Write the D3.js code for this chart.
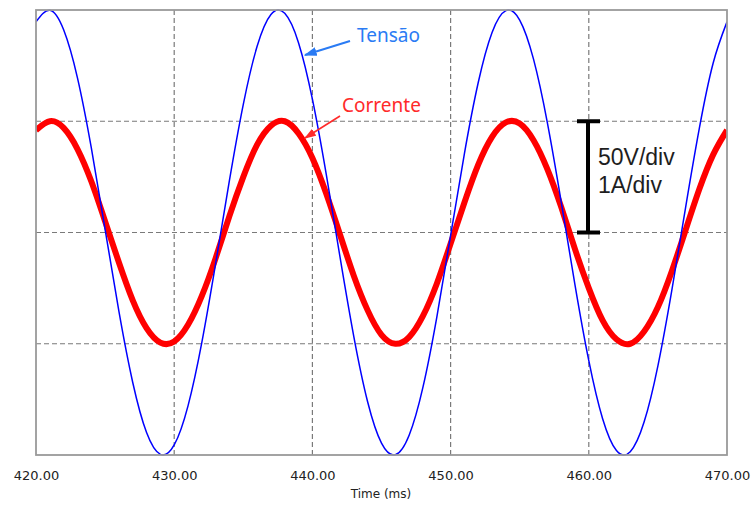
<!DOCTYPE html>
<html>
<head>
<meta charset="utf-8">
<script src="https://cdn.jsdelivr.net/npm/d3@7"></script>
<style>
  body { margin: 0; background: #fff; }
  svg { display: block; }
</style>
</head>
<body>
<svg id="chart"></svg>
<script>
// time samples (ms), one per millisecond
const time = d3.range(420, 471);

// voltage (V)
const tensao = [
  94.7, 99.9, 91.1, 69.5, 38.1, 1.4, -35.5, -67.4, -89.9, -99.7,
  -95.5, -77.9, -49.4, -13.9, 23.5, 57.6, 83.7, 98.0, 98.5, 85.2,
  59.9, 26.2, -11.1, -46.9, -76.2, -94.7, -99.9, -91.1, -69.5, -38.1,
  -1.4, 35.5, 67.4, 89.9, 99.7, 95.5, 77.9, 49.4, 13.9, -23.5,
  -57.6, -83.7, -98.0, -98.5, -85.2, -59.9, -26.2, 11.1, 46.9, 76.2,
  94.7
];

// current (A)
const corrente = [
  0.92, 1.00, 0.94, 0.75, 0.46, 0.10, -0.27, -0.61, -0.86, -0.99,
  -0.98, -0.83, -0.57, -0.23, 0.15, 0.50, 0.79, 0.96, 1.00, 0.89,
  0.67, 0.35, -0.02, -0.39, -0.70, -0.92, -1.00, -0.94, -0.75, -0.46,
  -0.10, 0.27, 0.61, 0.86, 0.99, 0.98, 0.83, 0.57, 0.23, -0.15,
  -0.50, -0.79, -0.96, -1.00, -0.89, -0.67, -0.35, 0.02, 0.39, 0.70,
  0.92
];

const xTicks = [420, 430, 440, 450, 460, 470];
const vGrid = [-50, 0, 50];

const width = 751;
const height = 505;
const plotL = 36, plotR = 727, plotT = 10, plotB = 455;

const svg = d3.select("#chart").attr("width", width).attr("height", height);

const x = d3.scaleLinear().domain([420, 470]).range([plotL, plotR]);
const yV = d3.scaleLinear().domain([-100, 100]).range([plotB, plotT]);
const yI = d3.scaleLinear().domain([-2, 2]).range([plotB, plotT]);

svg.append("clipPath").attr("id", "plot")
  .append("rect")
  .attr("x", plotL).attr("y", plotT - 1)
  .attr("width", plotR - plotL).attr("height", plotB - plotT + 2);

// grid
svg.append("g")
  .selectAll("line")
  .data(xTicks.slice(1, -1))
  .join("line")
  .attr("x1", (d) => x(d)).attr("x2", (d) => x(d))
  .attr("y1", plotT).attr("y2", plotB)
  .attr("stroke", "#7a7a7a")
  .attr("stroke-width", 1.2)
  .attr("stroke-dasharray", "5,3");

svg.append("g")
  .selectAll("line")
  .data(vGrid)
  .join("line")
  .attr("x1", plotL).attr("x2", plotR)
  .attr("y1", (d) => yV(d)).attr("y2", (d) => yV(d))
  .attr("stroke", "#7a7a7a")
  .attr("stroke-width", 1.2)
  .attr("stroke-dasharray", "5,3");

// traces
const plot = svg.append("g").attr("clip-path", "url(#plot)");

plot.append("path")
  .datum(time.map((t, i) => [t, corrente[i]]))
  .attr("fill", "none")
  .attr("stroke", "#ff0000")
  .attr("stroke-width", 6)
  .attr("d", d3.line().x((d) => x(d[0])).y((d) => yI(d[1])).curve(d3.curveNatural));

plot.append("path")
  .datum(time.map((t, i) => [t, tensao[i]]))
  .attr("fill", "none")
  .attr("stroke", "#0000ff")
  .attr("stroke-width", 1.5)
  .attr("d", d3.line().x((d) => x(d[0])).y((d) => yV(d[1])).curve(d3.curveNatural));

// frame
svg.append("rect")
  .attr("x", plotL).attr("y", plotT)
  .attr("width", plotR - plotL).attr("height", plotB - plotT)
  .attr("fill", "none")
  .attr("stroke", "#9a9a9a")
  .attr("stroke-width", 1.8);

// x axis labels
const xAxis = d3.axisBottom(x)
  .tickValues(xTicks)
  .tickFormat(d3.format(".2f"))
  .tickSize(0)
  .tickPadding(16);

const gx = svg.append("g")
  .attr("transform", `translate(0, ${plotB})`)
  .call(xAxis);
gx.select(".domain").remove();
gx.selectAll("text")
  .attr("font-family", "DejaVu Sans")
  .attr("font-size", 13)
  .attr("fill", "#222");

svg.append("text")
  .attr("x", 381).attr("y", 498)
  .attr("text-anchor", "middle")
  .attr("font-family", "DejaVu Sans")
  .attr("font-size", 12)
  .attr("fill", "#222")
  .text("Time (ms)");

// annotations
const defs = svg.append("defs");
[["blueHead", "#2a7bf4", 13, 9], ["redHead", "#ff2a2a", 12, 8]].forEach(([id, c, w, h]) => {
  defs.append("marker")
    .attr("id", id)
    .attr("viewBox", "0 0 10 10")
    .attr("refX", 9).attr("refY", 5)
    .attr("markerWidth", w).attr("markerHeight", h)
    .attr("markerUnits", "userSpaceOnUse")
    .attr("orient", "auto")
    .attr("preserveAspectRatio", "none")
    .append("path")
    .attr("d", "M0,0 L10,5 L0,10 Z")
    .attr("fill", c);
});

svg.append("line")
  .attr("x1", 350).attr("y1", 41).attr("x2", 305).attr("y2", 55)
  .attr("stroke", "#2a7bf4").attr("stroke-width", 2)
  .attr("marker-end", "url(#blueHead)");

svg.append("text")
  .attr("x", 357).attr("y", 42)
  .attr("font-family", "Noto Sans")
  .attr("font-size", 19)
  .attr("fill", "#2a7bf4")
  .text("Tensão");

svg.append("line")
  .attr("x1", 340).attr("y1", 116).attr("x2", 305).attr("y2", 138)
  .attr("stroke", "#ff2a2a").attr("stroke-width", 1.6)
  .attr("marker-end", "url(#redHead)");

svg.append("text")
  .attr("x", 342).attr("y", 112)
  .attr("font-family", "Noto Sans")
  .attr("font-size", 19)
  .attr("fill", "#ff2a2a")
  .text("Corrente");

// scale bar: one division
const bar = svg.append("g").attr("stroke", "#000").attr("stroke-width", 4);
bar.append("line")
  .attr("x1", 588).attr("x2", 588)
  .attr("y1", yV(50)).attr("y2", yV(0));
bar.append("line")
  .attr("x1", 577).attr("x2", 600)
  .attr("y1", yV(50)).attr("y2", yV(50));
bar.append("line")
  .attr("x1", 577).attr("x2", 600)
  .attr("y1", yV(0)).attr("y2", yV(0));

svg.append("text")
  .attr("x", 598).attr("y", 165)
  .attr("font-family", "Liberation Sans")
  .attr("font-size", 23)
  .attr("fill", "#1e1e1e")
  .text("50V/div");

svg.append("text")
  .attr("x", 598).attr("y", 193)
  .attr("font-family", "Liberation Sans")
  .attr("font-size", 23)
  .attr("fill", "#1e1e1e")
  .text("1A/div");
</script>
</body>
</html>
